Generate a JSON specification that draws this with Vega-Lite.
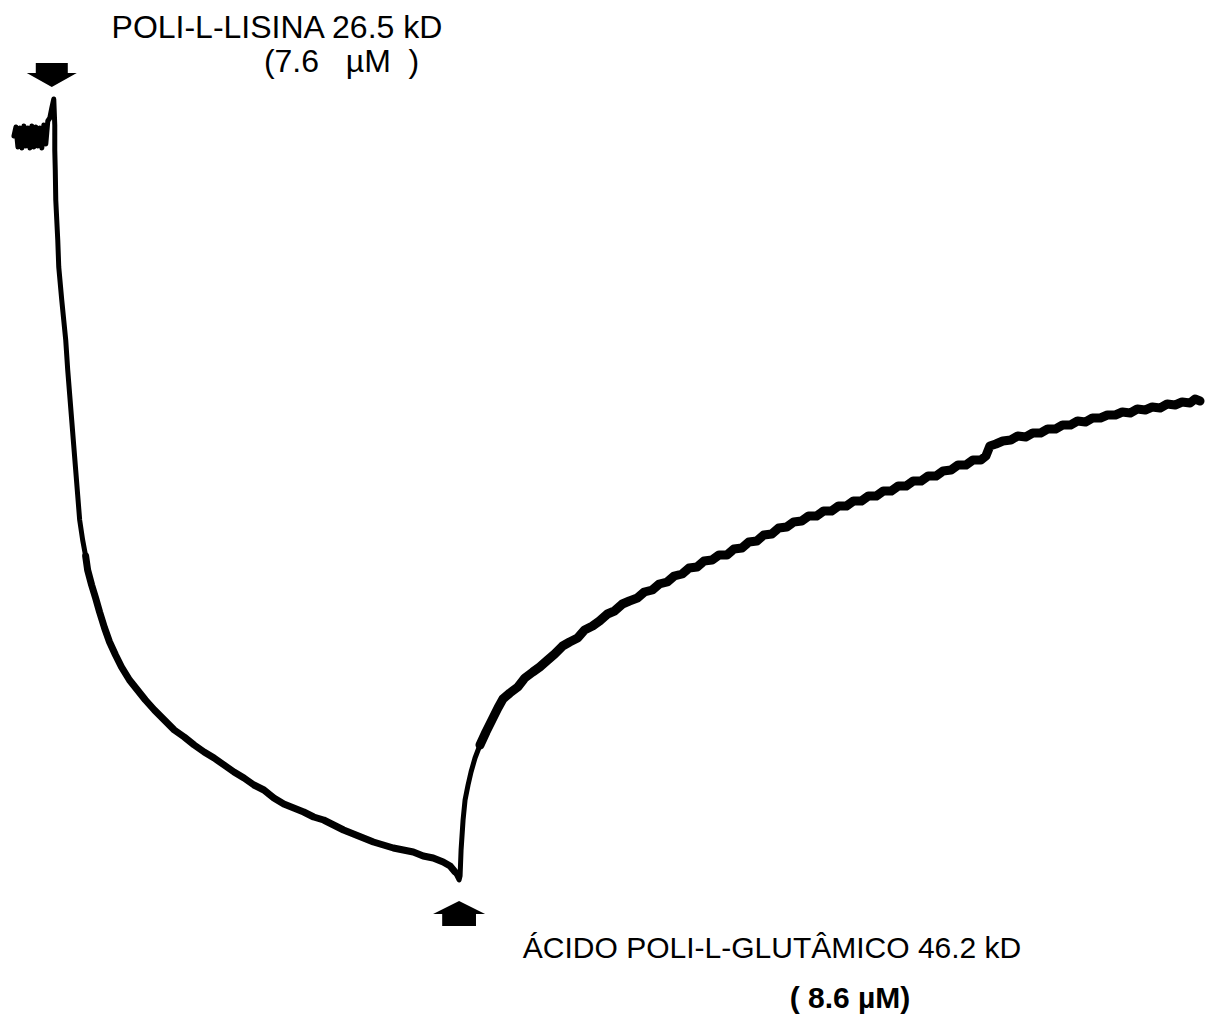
{
  "$schema": "https://vega.github.io/schema/vega-lite/v6.json",
  "width": 1205,
  "height": 1031,
  "autosize": {"type": "fit", "contains": "padding"},
  "padding": 0,
  "background": "white",
  "config": {"view": {"stroke": null}},
  "datasets": {
    "trace": [
      {"t":14,"v":136,"seg":"a"},{"t":16,"v":127,"seg":"a"},{"t":18,"v":147,"seg":"a"},{"t":20,"v":128,"seg":"a"},{"t":22,"v":148,"seg":"a"},{"t":24,"v":126,"seg":"a"},{"t":26,"v":146,"seg":"a"},{"t":28,"v":128,"seg":"a"},{"t":30,"v":148,"seg":"a"},{"t":32,"v":126,"seg":"a"},{"t":34,"v":147,"seg":"a"},{"t":36,"v":127,"seg":"a"},{"t":38,"v":146,"seg":"a"},{"t":40,"v":128,"seg":"a"},{"t":42,"v":148,"seg":"a"},{"t":44,"v":125,"seg":"a"},{"t":46,"v":144,"seg":"a"},{"t":48,"v":121,"seg":"a"},{"t":50,"v":118,"seg":"a"},{"t":52,"v":108,"seg":"a"},{"t":54,"v":99,"seg":"a"},{"t":55,"v":125,"seg":"a"},{"t":55,"v":150,"seg":"a"},
      {"t":55.5,"v":170,"seg":"a"},{"t":56,"v":200,"seg":"a"},{"t":58,"v":240,"seg":"a"},{"t":59,"v":267,"seg":"a"},{"t":62,"v":300,"seg":"a"},{"t":64,"v":320,"seg":"a"},{"t":66,"v":340,"seg":"a"},{"t":68,"v":370,"seg":"a"},{"t":70,"v":395,"seg":"a"},{"t":72,"v":420,"seg":"a"},{"t":74,"v":445,"seg":"a"},{"t":76,"v":470,"seg":"a"},{"t":78,"v":495,"seg":"a"},{"t":80,"v":520,"seg":"a"},{"t":83,"v":540,"seg":"a"},{"t":86,"v":556,"seg":"a"},
      {"t":86,"v":556,"seg":"c"},{"t":88,"v":570,"seg":"c"},{"t":92,"v":585,"seg":"c"},{"t":96,"v":598,"seg":"c"},{"t":100,"v":612,"seg":"c"},{"t":105,"v":628,"seg":"c"},{"t":110,"v":642,"seg":"c"},{"t":116,"v":655,"seg":"c"},{"t":122,"v":667,"seg":"c"},{"t":130,"v":680,"seg":"c"},{"t":138,"v":690,"seg":"c"},{"t":146,"v":700,"seg":"c"},{"t":155,"v":710,"seg":"c"},{"t":165,"v":720,"seg":"c"},{"t":175,"v":730,"seg":"c"},{"t":185,"v":737,"seg":"c"},{"t":195,"v":745,"seg":"c"},{"t":205,"v":752,"seg":"c"},{"t":215,"v":758,"seg":"c"},{"t":225,"v":765,"seg":"c"},{"t":235,"v":772,"seg":"c"},{"t":245,"v":778,"seg":"c"},{"t":255,"v":785,"seg":"c"},{"t":265,"v":790,"seg":"c"},{"t":275,"v":798,"seg":"c"},{"t":285,"v":804,"seg":"c"},{"t":295,"v":808,"seg":"c"},{"t":305,"v":812,"seg":"c"},{"t":315,"v":817,"seg":"c"},{"t":325,"v":820,"seg":"c"},{"t":335,"v":825,"seg":"c"},{"t":345,"v":830,"seg":"c"},{"t":355,"v":834,"seg":"c"},{"t":365,"v":838,"seg":"c"},{"t":375,"v":842,"seg":"c"},{"t":385,"v":845,"seg":"c"},{"t":395,"v":848,"seg":"c"},{"t":405,"v":850,"seg":"c"},{"t":415,"v":852,"seg":"c"},{"t":425,"v":856,"seg":"c"},{"t":435,"v":858,"seg":"c"},{"t":445,"v":862,"seg":"c"},{"t":452,"v":866,"seg":"c"},{"t":457,"v":872,"seg":"c"},
      {"t":457,"v":872,"seg":"d"},{"t":461,"v":880,"seg":"d"},{"t":462,"v":876,"seg":"d"},{"t":463,"v":850,"seg":"d"},{"t":465,"v":820,"seg":"d"},{"t":467,"v":800,"seg":"d"},{"t":470,"v":785,"seg":"d"},{"t":473,"v":772,"seg":"d"},{"t":477,"v":758,"seg":"d"},{"t":482,"v":745,"seg":"d"},
      {"t":482,"v":745,"seg":"b"},{"t":488,"v":732,"seg":"b"},{"t":494,"v":720,"seg":"b"},{"t":500,"v":708,"seg":"b"},{"t":505,"v":699,"seg":"b"},{"t":512,"v":693,"seg":"b"},{"t":520,"v":687,"seg":"b"},{"t":527,"v":678,"seg":"b"},{"t":535,"v":672,"seg":"b"},{"t":542,"v":667,"seg":"b"},{"t":550,"v":660,"seg":"b"},{"t":557,"v":654,"seg":"b"},{"t":565,"v":646,"seg":"b"},{"t":572,"v":642,"seg":"b"},{"t":580,"v":638,"seg":"b"},{"t":587,"v":630,"seg":"b"},{"t":595,"v":626,"seg":"b"},{"t":602,"v":621,"seg":"b"},{"t":610,"v":614,"seg":"b"},{"t":617,"v":611,"seg":"b"},{"t":625,"v":604,"seg":"b"},{"t":632,"v":601,"seg":"b"},{"t":640,"v":598,"seg":"b"},{"t":647,"v":592,"seg":"b"},{"t":655,"v":590,"seg":"b"},{"t":662,"v":584,"seg":"b"},{"t":670,"v":582,"seg":"b"},{"t":677,"v":576,"seg":"b"},{"t":685,"v":574,"seg":"b"},{"t":692,"v":568,"seg":"b"},{"t":700,"v":567,"seg":"b"},{"t":707,"v":561,"seg":"b"},{"t":715,"v":560,"seg":"b"},{"t":722,"v":555,"seg":"b"},{"t":730,"v":555,"seg":"b"},{"t":737,"v":549,"seg":"b"},{"t":745,"v":548,"seg":"b"},{"t":752,"v":542,"seg":"b"},{"t":760,"v":541,"seg":"b"},{"t":767,"v":535,"seg":"b"},{"t":775,"v":534,"seg":"b"},{"t":782,"v":528,"seg":"b"},{"t":790,"v":527,"seg":"b"},{"t":797,"v":522,"seg":"b"},{"t":805,"v":521,"seg":"b"},{"t":812,"v":516,"seg":"b"},{"t":820,"v":516,"seg":"b"},{"t":827,"v":511,"seg":"b"},{"t":835,"v":511,"seg":"b"},{"t":842,"v":506,"seg":"b"},{"t":850,"v":506,"seg":"b"},{"t":857,"v":501,"seg":"b"},{"t":865,"v":501,"seg":"b"},{"t":872,"v":496,"seg":"b"},{"t":880,"v":496,"seg":"b"},{"t":887,"v":491,"seg":"b"},{"t":895,"v":491,"seg":"b"},{"t":902,"v":486,"seg":"b"},{"t":910,"v":486,"seg":"b"},{"t":917,"v":481,"seg":"b"},{"t":925,"v":481,"seg":"b"},{"t":932,"v":476,"seg":"b"},{"t":940,"v":476,"seg":"b"},{"t":947,"v":471,"seg":"b"},{"t":955,"v":470,"seg":"b"},{"t":962,"v":465,"seg":"b"},{"t":970,"v":465,"seg":"b"},{"t":977,"v":460,"seg":"b"},{"t":985,"v":460,"seg":"b"},{"t":990,"v":456,"seg":"b"},{"t":994,"v":446,"seg":"b"},{"t":1000,"v":444,"seg":"b"},{"t":1007,"v":441,"seg":"b"},{"t":1015,"v":440,"seg":"b"},{"t":1022,"v":436,"seg":"b"},{"t":1030,"v":437,"seg":"b"},{"t":1037,"v":433,"seg":"b"},{"t":1045,"v":433,"seg":"b"},{"t":1052,"v":429,"seg":"b"},{"t":1060,"v":429,"seg":"b"},{"t":1067,"v":425,"seg":"b"},{"t":1075,"v":425,"seg":"b"},{"t":1082,"v":421,"seg":"b"},{"t":1090,"v":422,"seg":"b"},{"t":1097,"v":418,"seg":"b"},{"t":1105,"v":418,"seg":"b"},{"t":1112,"v":415,"seg":"b"},{"t":1120,"v":415,"seg":"b"},{"t":1127,"v":412,"seg":"b"},{"t":1135,"v":413,"seg":"b"},{"t":1142,"v":409,"seg":"b"},{"t":1150,"v":410,"seg":"b"},{"t":1157,"v":407,"seg":"b"},{"t":1165,"v":408,"seg":"b"},{"t":1172,"v":404,"seg":"b"},{"t":1180,"v":405,"seg":"b"},{"t":1187,"v":402,"seg":"b"},{"t":1195,"v":403,"seg":"b"},{"t":1200,"v":399,"seg":"b"},{"t":1205,"v":401,"seg":"b"}
    ],
    "arrows": [
      {"t":52,"v":75,"dir":"down"},
      {"t":461,"v":913.5,"dir":"up"}
    ],
    "labels": [
      {"t":112,"v":38,"id":1,"text":"POLI-L-LISINA 26.5 kD"},
      {"t":265,"v":72,"id":2,"text":"(7.6\u00a0\u00a0\u00a0µM\u00a0\u00a0)"},
      {"t":525,"v":958,"id":3,"text":"ÁCIDO POLI-L-GLUTÂMICO 46.2 kD"},
      {"t":793,"v":1008,"id":4,"text":"(\u00a08.6\u00a0µM)"}
    ]
  },
  "encoding": {
    "x": {"field": "t", "type": "quantitative", "scale": {"domain": [0, 1205], "nice": false, "zero": false}, "axis": null},
    "y": {"field": "v", "type": "quantitative", "scale": {"domain": [0, 1031], "nice": false, "zero": false, "reverse": true}, "axis": null}
  },
  "layer": [
    {
      "data": {"name": "trace"},
      "transform": [{"filter": "datum.seg === 'a' || datum.seg === 'd'"}],
      "mark": {"type": "line", "color": "black", "strokeWidth": 5, "strokeJoin": "round", "strokeCap": "round"},
      "encoding": {"detail": {"field": "seg"}, "order": {"value": 0}}
    },
    {
      "data": {"name": "trace"},
      "transform": [{"filter": "datum.seg === 'c'"}],
      "mark": {"type": "line", "color": "black", "strokeWidth": 7, "strokeJoin": "round", "strokeCap": "round"},
      "encoding": {"order": {"value": 0}}
    },
    {
      "data": {"name": "trace"},
      "transform": [{"filter": "datum.seg === 'b'"}],
      "mark": {"type": "line", "color": "black", "strokeWidth": 9, "strokeJoin": "round", "strokeCap": "round"},
      "encoding": {"order": {"value": 0}}
    },
    {
      "data": {"name": "arrows"},
      "transform": [{"filter": "datum.dir === 'down'"}],
      "mark": {"type": "point", "filled": true, "color": "black", "opacity": 1, "size": 2500, "shape": "M-0.64,-0.48L0.64,-0.48L0.64,-0.08L1,-0.08L0,0.48L-1,-0.08L-0.64,-0.08Z"},
      "encoding": {}
    },
    {
      "data": {"name": "arrows"},
      "transform": [{"filter": "datum.dir === 'up'"}],
      "mark": {"type": "point", "filled": true, "color": "black", "opacity": 1, "size": 2704, "shape": "M0,-0.48L1,0.02L0.65,0.02L0.65,0.48L-0.65,0.48L-0.65,0.02L-1,0.02Z"},
      "encoding": {}
    },
    {
      "data": {"name": "labels"},
      "transform": [{"filter": "datum.id === 1 || datum.id === 2"}],
      "mark": {"type": "text", "align": "left", "baseline": "alphabetic", "font": "Liberation Sans", "fontSize": 32, "color": "black"},
      "encoding": {"text": {"field": "text"}}
    },
    {
      "data": {"name": "labels"},
      "transform": [{"filter": "datum.id === 3"}],
      "mark": {"type": "text", "align": "left", "baseline": "alphabetic", "font": "Liberation Sans", "fontSize": 30, "color": "black"},
      "encoding": {"text": {"field": "text"}}
    },
    {
      "data": {"name": "labels"},
      "transform": [{"filter": "datum.id === 4"}],
      "mark": {"type": "text", "align": "left", "baseline": "alphabetic", "font": "Liberation Sans", "fontSize": 30, "fontWeight": "bold", "color": "black"},
      "encoding": {"text": {"field": "text"}}
    }
  ]
}
